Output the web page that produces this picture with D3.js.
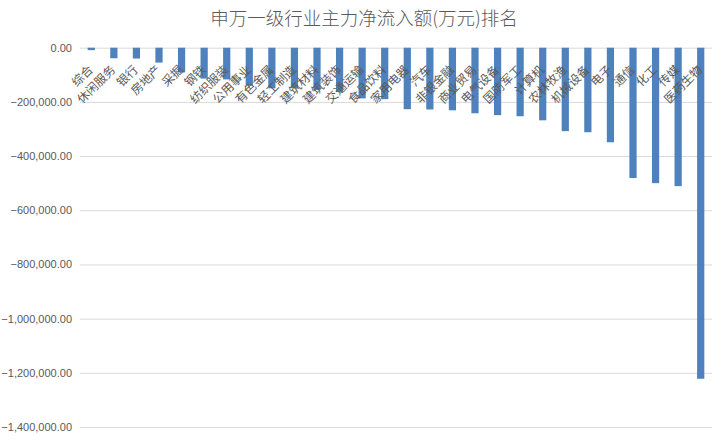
<!DOCTYPE html>
<html><head><meta charset="utf-8">
<script src="https://cdn.jsdelivr.net/npm/d3@7"></script>
<style>body{margin:0;background:#fff}</style>
</head><body>
<svg id="c" width="726" height="441"></svg>
<script>
const title = "申万一级行业主力净流入额(万元)排名";
const categories = ["综合","休闲服务","银行","房地产","采掘","钢铁","纺织服装","公用事业","有色金属","轻工制造","建筑材料","建筑装饰","交通运输","食品饮料","家用电器","汽车","非银金融","商业贸易","电气设备","国防军工","计算机","农林牧渔","机械设备","电子","通信","化工","传媒","医药生物"];
const values = [-9000,-39000,-40000,-55000,-91000,-114000,-117000,-139000,-150000,-149000,-156000,-164000,-187000,-190000,-227000,-228000,-231000,-242000,-249000,-253000,-268000,-308000,-312000,-349000,-481000,-500000,-511000,-1222000];
const yTicks = [0,-200000,-400000,-600000,-800000,-1000000,-1200000,-1400000];

const svg = d3.select("#c");
const pLeft = 80, pRight = 712, pTop = 47.7, pBottom = 427;
const x = d3.scaleBand().domain(categories).range([pLeft, pRight]).paddingInner(0.68).paddingOuter(0.34);
const y = d3.scaleLinear().domain([0, -1400000]).range([pTop, pBottom]);
const fmt = d3.format(",.2f");

svg.append("text").attr("x", 364).attr("y", 25).attr("text-anchor", "middle")
  .attr("font-family", "Noto Sans CJK SC").attr("font-weight", 300).attr("font-size", 18.5).attr("fill", "#595959").text(title);

const yAxis = d3.axisLeft(y).tickValues(yTicks).tickSize(-(pRight - pLeft)).tickPadding(8).tickFormat(d => d === 0 ? "0.00" : fmt(d));
const ga = svg.append("g").attr("transform", `translate(${pLeft},0)`).call(yAxis);
ga.select(".domain").remove();
ga.selectAll(".tick line").attr("stroke", "#d9d9d9").attr("stroke-width", 1);
ga.selectAll(".tick text").attr("fill", "#595959").attr("font-family", "Liberation Sans").attr("font-size", 11);

svg.append("g").selectAll("rect").data(values).join("rect")
  .attr("x", (d, i) => x(categories[i]))
  .attr("width", x.bandwidth())
  .attr("y", y(0))
  .attr("height", d => y(d) - y(0))
  .attr("fill", "#4f81bd");

svg.append("g").selectAll("text").data(categories).join("text")
  .attr("transform", d => `translate(${x(d) + x.bandwidth() / 2 - 1.5},66.5) rotate(-45)`)
  .attr("text-anchor", "end").attr("dominant-baseline", "central")
  .attr("font-family", "Noto Sans CJK SC").attr("font-size", 12).attr("fill", "#595959")
  .text(d => d);
</script>
</body></html>
